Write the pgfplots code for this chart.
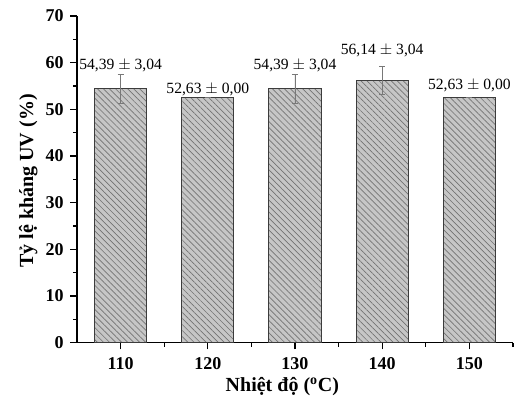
\documentclass[border=0pt]{standalone}
\usepackage{fontspec}
\setmainfont{Liberation Serif}
\usepackage{pgfplots}
\pgfplotsset{compat=1.18}
\usetikzlibrary{patterns.meta}
\definecolor{barfill}{RGB}{198,198,198}
\definecolor{hatch}{RGB}{115,115,115}
\definecolor{edge}{RGB}{60,60,60}
\definecolor{errc}{RGB}{120,120,120}
\begin{document}
\begin{tikzpicture}
\begin{axis}[
  name=ax,
  scale only axis,
  width=327pt, height=245pt,
  xmin=105, xmax=155,
  ymin=0, ymax=70,
  axis x line*=bottom, axis y line*=left,
  axis line style={line width=0.9pt, black},
  xtick={110,120,130,140,150},
  minor xtick={115,125,135,145,155},
  ytick={0,10,...,70},
  minor ytick={5,15,...,65},
  tick align=outside,
  major tick length=5pt, minor tick length=3pt,
  tick style={line width=0.8pt, black},
  ticklabel style={font=\fontsize{13.5}{13.5}\selectfont\bfseries},
  yticklabel style={xshift=-1.5pt},
  xticklabel style={yshift=-2.5pt},
  /pgf/number format/assume math mode=true,
  xlabel={Nhiệt độ (\textsuperscript{o}C)},
  ylabel={Tỷ lệ kháng UV (\%)},
  label style={font=\fontsize{15}{15}\selectfont\bfseries},
  xlabel style={at={(axis description cs:0.471,-0.135)}, anchor=center},
  ylabel style={at={(axis description cs:-0.112,0.495)}, anchor=center, rotate=0},
  clip=false,
]
\addplot[ybar, bar width=6, draw=edge, line width=0.8pt, fill=barfill,
  postaction={pattern={Lines[angle=-45, distance=3.2pt, line width=0.5pt]}, pattern color=hatch},
  error bars/.cd, y dir=both, y explicit,
  error bar style={errc, line width=0.6pt},
  error mark options={rotate=90, mark size=2.25pt, errc, line width=0.6pt}]
  coordinates {
  (110,54.39) +- (0,3.04)
  (120,52.63) +- (0,0)
  (130,54.39) +- (0,3.04)
  (140,56.14) +- (0,3.04)
  (150,52.63) +- (0,0)
};
\addplot[draw=none, mark=none,
  nodes near coords, point meta=explicit symbolic,
  nodes near coords style={anchor=south, font=\fontsize{11.7}{11.7}\selectfont, black}]
  coordinates {
  (110,57.07) [{54,39 $\pm$ 3,04}]
  (120,51.9) [{52,63 $\pm$ 0,00}]
  (130,57.07) [{54,39 $\pm$ 3,04}]
  (140,60.3) [{56,14 $\pm$ 3,04}]
  (150,52.8) [{52,63 $\pm$ 0,00}]
};
\end{axis}
\pgfresetboundingbox
\path (ax.south west) ++(-57.75pt,-39.75pt) coordinate (bl);
\path (ax.north east) ++(6pt,12pt) coordinate (tr);
\path[use as bounding box] (bl) rectangle (tr);
\end{tikzpicture}
\end{document}
